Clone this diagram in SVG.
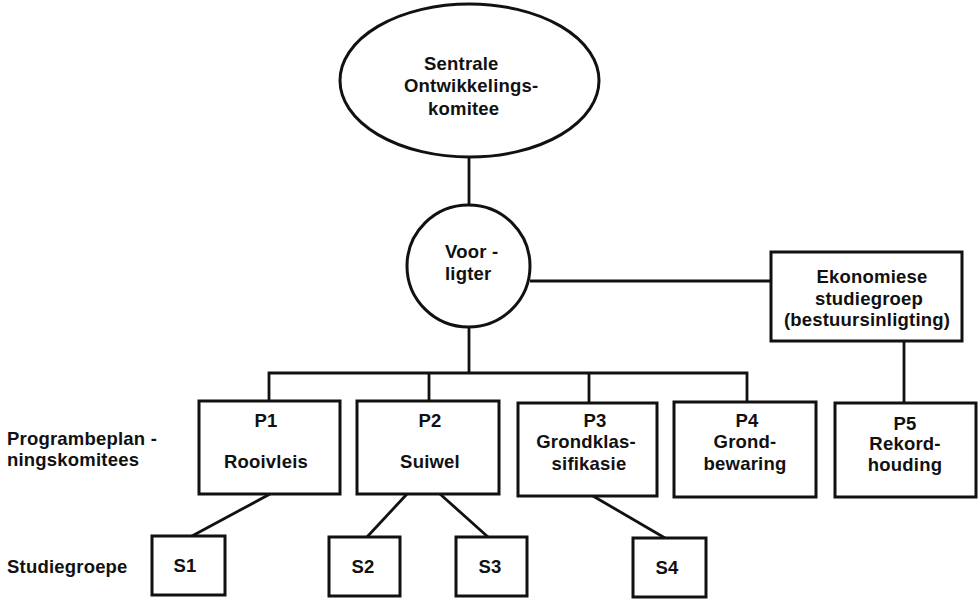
<svg xmlns="http://www.w3.org/2000/svg" width="980" height="599" viewBox="0 0 980 599">
<style>
text{font-family:"Liberation Sans",Arial,sans-serif;font-weight:bold;font-size:18.5px;letter-spacing:0.2px;fill:#111}
.m{text-anchor:middle}
.shape{fill:#fff;stroke:#111;stroke-width:3}
.conn line, .conn polyline{stroke:#111;stroke-width:2.8;fill:none}
</style>
<rect width="980" height="599" fill="#fff"/>
<g class="conn" id="connectors">
<line x1="469" y1="157" x2="469" y2="205"/>
<line x1="469" y1="327" x2="469" y2="373"/>
<polyline points="269,401 269,373 747,373 747,402"/>
<line x1="429" y1="373" x2="429" y2="401"/>
<line x1="589" y1="373" x2="589" y2="402"/>
<line x1="530" y1="281" x2="771" y2="281"/>
<line x1="904" y1="341" x2="904" y2="403"/>
<line x1="270" y1="494" x2="192" y2="536"/>
<line x1="407" y1="494" x2="367" y2="537"/>
<line x1="440" y1="494" x2="488" y2="537"/>
<line x1="593" y1="496" x2="665" y2="538"/>
</g>
<g id="sentrale">
<ellipse class="shape" cx="469.5" cy="80.5" rx="129.5" ry="76.5"/>
<text x="424" y="70">Sentrale</text>
<text x="404" y="92">Ontwikkelings-</text>
<text x="428" y="115">komitee</text>
</g>
<g id="voorligter">
<ellipse class="shape" cx="468.5" cy="266" rx="61.5" ry="61"/>
<text x="445" y="258">Voor -</text>
<text x="445" y="280">ligter</text>
</g>
<g id="ekonomiese">
<rect class="shape" x="771" y="252" width="191" height="89"/>
<text class="m" x="872" y="283">Ekonomiese</text>
<text class="m" x="869" y="305">studiegroep</text>
<text class="m" x="867" y="326">(bestuursinligting)</text>
</g>
<g id="p1">
<rect class="shape" x="199" y="401" width="141" height="93"/>
<text class="m" x="266" y="427">P1</text>
<text class="m" x="266" y="468">Rooivleis</text>
</g>
<g id="p2">
<rect class="shape" x="357" y="401" width="142" height="93"/>
<text class="m" x="430" y="427">P2</text>
<text class="m" x="430" y="468">Suiwel</text>
</g>
<g id="p3">
<rect class="shape" x="518" y="403" width="139" height="93"/>
<text class="m" x="595" y="427">P3</text>
<text class="m" x="586" y="448">Grondklas-</text>
<text class="m" x="589" y="470">sifikasie</text>
</g>
<g id="p4">
<rect class="shape" x="674" y="402" width="142" height="95"/>
<text class="m" x="747" y="427">P4</text>
<text class="m" x="745" y="448">Grond-</text>
<text class="m" x="745" y="470">bewaring</text>
</g>
<g id="p5">
<rect class="shape" x="835" y="403" width="141" height="94"/>
<text class="m" x="905" y="430">P5</text>
<text class="m" x="905" y="450">Rekord-</text>
<text class="m" x="905" y="471">houding</text>
</g>
<g id="s1">
<rect class="shape" x="152" y="536" width="73" height="59"/>
<text class="m" x="185" y="572">S1</text>
</g>
<g id="s2">
<rect class="shape" x="329" y="537" width="71" height="59"/>
<text class="m" x="363" y="573">S2</text>
</g>
<g id="s3">
<rect class="shape" x="456" y="537" width="71" height="59"/>
<text class="m" x="490" y="573">S3</text>
</g>
<g id="s4">
<rect class="shape" x="633" y="538" width="73" height="59"/>
<text class="m" x="667" y="574">S4</text>
</g>
<g id="labels">
<text x="7" y="445">Programbeplan -</text>
<text x="7" y="466">ningskomitees</text>
<text x="7" y="573">Studiegroepe</text>
</g>
</svg>
